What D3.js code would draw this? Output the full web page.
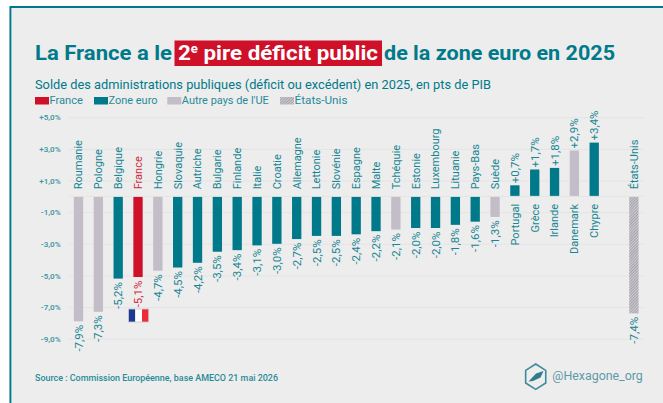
<!DOCTYPE html>
<html><head><meta charset="utf-8">
<script src="https://cdn.jsdelivr.net/npm/d3@7"></script>
<style>html,body{margin:0;padding:0;background:#fff}svg{display:block}text{font-family:Roboto,sans-serif}</style>
</head><body><div id="chart"></div>
<script>
const countries=["Roumanie","Pologne","Belgique","France","Hongrie","Slovaquie","Autriche","Bulgarie","Finlande","Italie","Croatie","Allemagne","Lettonie","Slovénie","Espagne","Malte","Tchéquie","Estonie","Luxembourg","Lituanie","Pays-Bas","Suède","Portugal","Grèce","Irlande","Danemark","Chypre","","États-Unis"];
const values=[-7.9,-7.3,-5.2,-5.1,-4.7,-4.5,-4.2,-3.5,-3.4,-3.1,-3.0,-2.7,-2.5,-2.5,-2.4,-2.2,-2.1,-2.0,-2.0,-1.8,-1.6,-1.3,0.7,1.7,1.8,2.9,3.4,null,-7.4];
const groups=["o","o","z","f","o","z","z","z","z","z","z","z","z","z","z","z","o","z","z","z","z","o","z","z","z","o","z","","u"];
const tickValues=[5,3,1,-1,-3,-5,-7,-9];
const legendNames=["France","Zone euro","Autre pays de l'UE","États-Unis"];
const legendGroups=["f","z","o","u"];
const TEAL="#007a8a",RED="#cf1029",GREY="#c2bdc7",BG="#ededed";
const W=663,H=403;
const svg=d3.select("#chart").append("svg").attr("width",W).attr("height",H);
const defs=svg.append("defs");
const pat=defs.append("pattern").attr("id","hatch").attr("patternUnits","userSpaceOnUse").attr("width",2).attr("height",2).attr("patternTransform","rotate(45)");
pat.append("rect").attr("width",2).attr("height",2).attr("fill","#cfccd2");
pat.append("rect").attr("width",1).attr("height",2).attr("fill","#a5a1aa");
const fill=g=>({f:RED,z:TEAL,o:GREY,u:"url(#hatch)"}[g]);
svg.append("rect").attr("x",9.5).attr("y",6).attr("width",W).attr("height",H).attr("fill",BG);
svg.append("path").attr("d",`M10.4 ${H}V7H${W}`).attr("fill","none").attr("stroke",TEAL).attr("stroke-width",1.9);
// title
const title=svg.append("g").attr("font-weight",700).attr("font-size",20.5);
title.append("text").attr("x",35).attr("y",60).attr("fill",TEAL).attr("textLength",137).attr("lengthAdjust","spacingAndGlyphs").text("La France a le");
title.append("rect").attr("x",174.5).attr("y",40.5).attr("width",207.5).attr("height",25.5).attr("fill",RED);
const hl=title.append("text").attr("x",178).attr("y",60).attr("fill","#fff").attr("textLength",200).attr("lengthAdjust","spacingAndGlyphs");
hl.append("tspan").text("2");
hl.append("tspan").attr("font-size",12).attr("dy",-7).text("e");
hl.append("tspan").attr("dy",7).text(" pire déficit public");
title.append("text").attr("x",384).attr("y",60).attr("fill",TEAL).attr("textLength",231).attr("lengthAdjust","spacingAndGlyphs").text("de la zone euro en 2025");
svg.append("text").attr("x",35).attr("y",89).attr("fill",TEAL).attr("font-size",13).attr("textLength",456).attr("lengthAdjust","spacingAndGlyphs").text("Solde des administrations publiques (déficit ou excédent) en 2025, en pts de PIB");
// legend
const legX=[35,94,167.3,280],legTW=[33.5,49,87,53];
const leg=svg.append("g").selectAll("g").data(legendNames).join("g").attr("transform",(d,i)=>`translate(${legX[i]},97)`);
leg.append("rect").attr("width",14).attr("height",7.5).attr("fill",(d,i)=>fill(legendGroups[i]));
leg.append("text").attr("x",14.5).attr("y",7).attr("font-size",10.5).attr("fill",TEAL).attr("opacity",.85).attr("textLength",(d,i)=>legTW[i]).attr("lengthAdjust","spacingAndGlyphs").text(d=>d);
// scales
const y=d3.scaleLinear().domain([5,-9]).range([117.3,338.7]);
const x=d3.scaleBand().domain(d3.range(countries.length)).range([68.6,643.8]).paddingInner(.53).paddingOuter(.265);
const fmt=v=>(v>0?"+":"-")+Math.abs(v).toFixed(1).replace(".",",")+"%";
// axis
const axis=d3.axisLeft(y).tickValues(tickValues).tickSize(-(643.8-68.6)).tickPadding(8).tickFormat(fmt);
const ag=svg.append("g").attr("transform","translate(68.6,0)").call(axis);
ag.select(".domain").remove();
ag.selectAll("line").attr("stroke","#e4e4e4").attr("stroke-width",1);
ag.selectAll("text").attr("font-size",8).attr("font-weight",600).attr("fill",TEAL).attr("opacity",.75).attr("font-family","Roboto,sans-serif");
// bars
const idx=d3.range(countries.length).filter(i=>values[i]!==null);
svg.append("g").selectAll("rect").data(idx).join("rect")
 .attr("x",i=>x(i)).attr("width",x.bandwidth())
 .attr("y",i=>y(Math.max(values[i],0))).attr("height",i=>Math.abs(y(values[i])-y(0)))
 .attr("fill",i=>fill(groups[i]));
svg.append("line").attr("x1",68.6).attr("x2",643.8).attr("y1",y(0)).attr("y2",y(0)).attr("stroke","#e4e4e4");
// labels
const cx=i=>x(i)+x.bandwidth()/2;
const vert=(sel,px,py,anchor)=>sel.attr("transform",i=>`translate(${px(i)},${py(i)}) rotate(-90)`).attr("text-anchor",anchor).attr("dy","0.35em");
const nameY=i=>values[i]<0?y(0)-7:y(0)+7.5;
vert(svg.append("g").selectAll("text").data(idx).join("text").attr("font-size",11).attr("fill",i=>groups[i]==="f"?RED:TEAL).attr("opacity",.9).text(i=>countries[i]),cx,nameY,i=>values[i]<0?"start":"end");
vert(svg.append("g").selectAll("text").data(idx).join("text").attr("font-size",11.5).attr("fill",i=>groups[i]==="f"?RED:TEAL).attr("opacity",.9).text(i=>fmt(values[i])),cx,i=>values[i]<0?y(values[i])+3.5:y(values[i])-2,i=>values[i]<0?"end":"start");
// flag
const fx=128.6,fy=309,fc=["#1f3a93","#fff","#ef2b3a"];
svg.append("g").selectAll("rect").data(fc).join("rect").attr("x",(d,i)=>fx+i*6.7).attr("y",fy).attr("width",6.7).attr("height",13).attr("fill",d=>d);
svg.append("rect").attr("x",fx).attr("y",fy).attr("width",20.1).attr("height",13).attr("fill","none").attr("stroke","#c8c8cc").attr("stroke-width",.8);
// source
svg.append("text").attr("x",35).attr("y",380.5).attr("font-size",9).attr("font-weight",500).attr("fill",TEAL).attr("opacity",.85).attr("textLength",243).attr("lengthAdjust","spacingAndGlyphs").text("Source : Commission Européenne, base AMECO 21 mai 2026");
// logo
const hex=d3.range(6).map(k=>{const a=Math.PI/3*k-Math.PI/2;return [535.7+11.6*Math.cos(a),376.7+12.7*Math.sin(a)];});
svg.append("path").attr("d",d3.line().curve(d3.curveLinearClosed)(hex)).attr("fill","none").attr("stroke","#3f8b9a").attr("stroke-width",1.6);
svg.append("path").attr("d","M528.5 381.5L536 373.5L543.5 371L540.5 377.5L533 381Z").attr("fill","#2d7d8c");
svg.append("text").attr("x",552.3).attr("y",380).attr("font-size",12.5).attr("fill","#5e9aa8").attr("textLength",90.5).attr("lengthAdjust","spacingAndGlyphs").text("@Hexagone_org");
</script></body></html>
